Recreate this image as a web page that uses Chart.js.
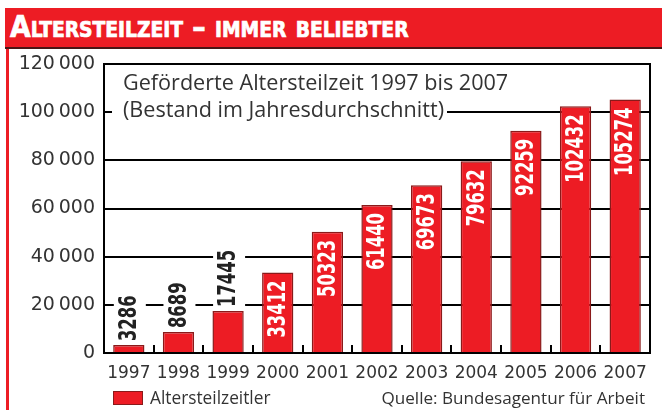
<!DOCTYPE html>
<html>
<head>
<meta charset="utf-8">
<script src="https://cdn.jsdelivr.net/npm/chart.js@4.4.0/dist/chart.umd.min.js"></script>
<style>
  body { margin: 0; width: 662px; height: 410px; position: relative; overflow: hidden; background: #fff; }
  #c { position: absolute; left: 0; top: 0; }
  .titlebar { position: absolute; left: 5px; top: 8px; width: 657px; height: 39px; background: #ed1c24; border-bottom: 2px solid #4a1414; }
  .titlebar span { position: absolute; left: 5px; top: 1px; color: #fff; font: bold 30px "DejaVu Sans Condensed", sans-serif; font-variant: small-caps; -webkit-text-stroke: 0.7px #fff; white-space: nowrap; transform-origin: 0 0; transform: scaleX(0.99); }
  .side { position: absolute; left: 6px; top: 49px; width: 3px; height: 361px; background: #ed1c24; }
  .sub { position: absolute; left: 112px; top: 68px; width: 335px; height: 56px; background: #fff; padding-left: 11px; box-sizing: border-box; color: #333; font: 21.6px "Open Sans", sans-serif; line-height: 27px; white-space: nowrap; }
  .legend { position: absolute; left: 113px; top: 386px; color: #333; font: 17.3px "Open Sans", sans-serif; white-space: nowrap; }
  .legend i { display: inline-block; width: 28px; height: 12px; background: #ed1c24; border: 1px solid #8a1a1a; vertical-align: -1px; margin-right: 7px; }
  .source { position: absolute; right: 17px; top: 386px; color: #333; font: 17.1px "Open Sans", sans-serif; white-space: nowrap; }
</style>
</head>
<body>
<canvas id="c" width="662" height="410"></canvas>
<div class="titlebar"><span>Altersteilzeit – immer beliebter</span></div>
<div class="side"></div>
<div class="sub">Geförderte Altersteilzeit 1997 bis 2007<br>(Bestand im Jahresdurchschnitt)</div>
<div class="legend"><i></i>Altersteilzeitler</div>
<div class="source">Quelle: Bundesagentur für Arbeit</div>
<script>
const years = ['1997', '1998', '1999', '2000', '2001', '2002', '2003', '2004', '2005', '2006', '2007'];
const counts = [3286, 8689, 17445, 33412, 50323, 61440, 69673, 79632, 92259, 102432, 105274];
const yTicks = [0, 20000, 40000, 60000, 80000, 100000, 120000];

const red = '#ed1c24';
const ink = '#333333';

function fmt(v) {
    if (v < 1000) return String(v);
    const s = String(v);
    return s.slice(0, s.length - 3) + '\u2009' + s.slice(-3);
}

// Rahmen rechts + kleine Striche zwischen den Jahren
const framePlugin = {
    id: 'frame',
    beforeDatasetsDraw(chart) {
        const { ctx, chartArea: a } = chart;
        ctx.save();
        ctx.strokeStyle = '#000';
        ctx.lineWidth = 2;
        ctx.beginPath();
        ctx.moveTo(a.right, a.top - 1);
        ctx.lineTo(a.right, a.bottom);
        ctx.stroke();
        ctx.restore();
    },
    afterDatasetsDraw(chart) {
        const { ctx, chartArea: a } = chart;
        const x = chart.scales.x;
        ctx.save();
        ctx.strokeStyle = '#000';
        ctx.lineWidth = 2;
        for (let i = 1; i < years.length; i++) {
            const px = Math.round((x.getPixelForValue(i - 1) + x.getPixelForValue(i)) / 2);
            ctx.beginPath();
            ctx.moveTo(px, a.bottom);
            ctx.lineTo(px, a.bottom - 8);
            ctx.stroke();
        }
        ctx.restore();
    }
};

// Werte senkrecht an den Balken (schmal gestaucht)
const squeeze = 0.76;
const valuePlugin = {
    id: 'values',
    afterDatasetsDraw(chart) {
        const { ctx } = chart;
        const meta = chart.getDatasetMeta(0);
        ctx.save();
        ctx.font = 'bold 24px "DejaVu Sans Condensed", sans-serif';
        ctx.textBaseline = 'middle';
        meta.data.forEach((bar, i) => {
            const txt = String(counts[i]);
            const w = ctx.measureText(txt).width * squeeze;
            ctx.save();
            if (counts[i] > 30000) {
                ctx.translate(bar.x + 1, bar.y + 8);
                ctx.rotate(-Math.PI / 2);
                ctx.scale(squeeze, 1);
                ctx.textAlign = 'right';
                ctx.fillStyle = '#fff';
                ctx.fillText(txt, 0, 0);
            } else {
                ctx.translate(bar.x + 1, bar.y - 4);
                ctx.rotate(-Math.PI / 2);
                ctx.fillStyle = '#fff';
                ctx.fillRect(-1, -16, w + 7, 32);
                ctx.scale(squeeze, 1);
                ctx.textAlign = 'left';
                ctx.fillStyle = '#222';
                ctx.fillText(txt, 0, 0);
            }
            ctx.restore();
        });
        ctx.restore();
    }
};

new Chart(document.getElementById('c').getContext('2d'), {
    type: 'bar',
    data: {
        labels: years,
        datasets: [{
            label: 'Altersteilzeitler',
            data: counts,
            backgroundColor: red,
            borderColor: '#8a1a1a',
            borderWidth: 1.5,
            barPercentage: 0.63,
            categoryPercentage: 1
        }]
    },
    options: {
        responsive: false,
        animation: false,
        layout: { padding: { top: 64, right: 12, bottom: 0, left: 0 } },
        plugins: {
            legend: { display: false },
            tooltip: { enabled: false }
        },
        scales: {
            x: {
                grid: { display: false },
                border: { display: true, color: '#000', width: 2 },
                ticks: { color: ink, font: { family: 'DejaVu Sans', size: 17 }, padding: 2 },
                afterFit(s) { s.height = 57; }
            },
            y: {
                min: 0,
                max: 120000,
                afterBuildTicks(s) { s.ticks = yTicks.map(v => ({ value: v })); },
                grid: { color: '#000', lineWidth: 2, drawTicks: false },
                border: { display: true, color: '#000', width: 2 },
                ticks: { color: ink, font: { family: 'DejaVu Sans', size: 19 }, padding: 9, callback: v => fmt(v) },
                afterFit(s) { s.width = 104; }
            }
        }
    },
    plugins: [framePlugin, valuePlugin]
});
</script>
</body>
</html>
